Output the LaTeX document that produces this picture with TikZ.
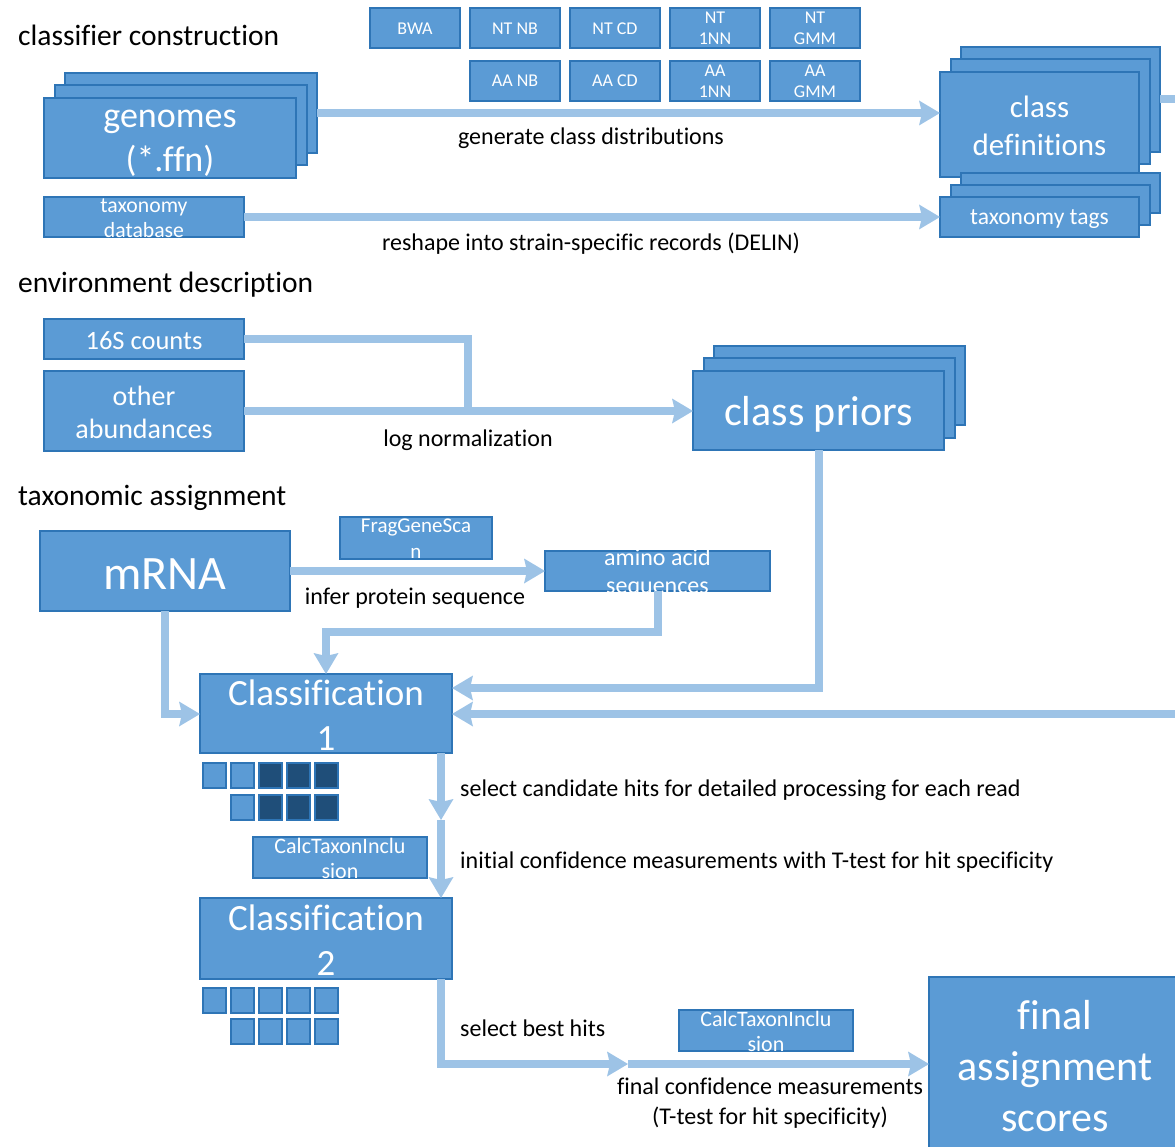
\documentclass[tikz,border=0pt]{standalone}
\usepackage{fontspec}
\setmainfont{Carlito}[Ligatures=NoCommon]
\usetikzlibrary{arrows.meta}
\definecolor{bf}{HTML}{5B9BD5}
\definecolor{bd}{HTML}{2E75B6}
\definecolor{lc}{HTML}{9DC3E6}
\definecolor{dk}{HTML}{1F4E79}
\begin{document}
\begin{tikzpicture}[x=1pt,y=-1pt,
 box/.style={draw=bd, fill=bf, line width=2pt, inner sep=0pt, outer sep=0pt},
 wt/.style={text=white, inner sep=0pt, align=center},
 lab/.style={text=black, inner sep=0pt, align=center, font=\fontsize{24}{30}\selectfont},
 ttl/.style={text=black, inner sep=0pt, anchor=west, font=\fontsize{29.5}{35}\selectfont},
 conn/.style={draw=lc, line width=8pt},
 arr/.style={conn, -{Stealth[length=21pt,width=25pt,inset=3pt,line width=0pt]}},
 sm/.style={box, minimum width=90pt, minimum height=40pt, text=white, align=center, font=\fontsize{18}{21}\selectfont},
 sq/.style={box, minimum width=23pt, minimum height=25pt},
 sqd/.style={sq, fill=dk},
]
\useasboundingbox (0,0) rectangle (1175,1147);

% ---- section titles
\node[ttl] (t1) at (18,35) {classifier construction};
\node[ttl] (t2) at (18,285) {environment description};
\node[ttl] (t3) at (18,498) {taxonomic assignment};

% ---- method boxes
\node[sm] (bwa) at (415,28.5) {BWA};
\node[sm] (ntnb) at (515,28.5) {NT NB};
\node[sm] (ntcd) at (615,28.5) {NT CD};
\node[sm] (nt1) at (715,28.5) {NT\\1NN};
\node[sm] (ntg) at (815,28.5) {NT\\GMM};
\node[sm] (aanb) at (515,81) {AA NB};
\node[sm] (aacd) at (615,81) {AA CD};
\node[sm] (aa1) at (715,81) {AA\\1NN};
\node[sm] (aag) at (815,81) {AA\\GMM};

% ---- genomes stack
\node[box, minimum width=252pt, minimum height=80pt] (gb) at (191,113) {};
\node[box, minimum width=252pt, minimum height=80pt] (gm) at (180.5,125.5) {};
\node[box, minimum width=252pt, minimum height=80pt] (gf) at (170,138) {};
\node[wt, font=\fontsize{36}{44}\selectfont] (gt) at (170,143) {genomes\\(*.ffn)};

% ---- taxonomy database
\node[box, minimum width=200pt, minimum height=40pt] (tdb) at (144,217) {};
\node[wt, font=\fontsize{21.7}{25}\selectfont] (tdbt) at (144,218) {taxonomy\\database};

% ---- class definitions stack
\node[box, minimum width=199pt, minimum height=105pt] (cdb) at (1060.5,99.5) {};
\node[box, minimum width=199pt, minimum height=105pt] (cdm) at (1050,112) {};
\node[box, minimum width=199pt, minimum height=105pt] (cdf) at (1039.5,124.5) {};
\node[wt, font=\fontsize{31}{38}\selectfont] (cdt) at (1039.5,126) {class\\definitions};

% ---- taxonomy tags stack
\node[box, minimum width=199pt, minimum height=40pt] (ttb) at (1060.5,193) {};
\node[box, minimum width=199pt, minimum height=40pt] (ttm) at (1050,205) {};
\node[box, minimum width=199pt, minimum height=40pt] (ttf) at (1039.5,217) {};
\node[wt, font=\fontsize{23.5}{28}\selectfont] (ttt) at (1039.5,219) {taxonomy tags};

% ---- classifier construction connectors
\draw[arr] (gb.east) -- (cdf.west |- gb.east);
\node[lab] (l1) at (591,138) {generate class distributions};
\draw[arr] (tdb.east) -- (ttf.west);
\node[lab] (l2) at (591,244) {reshape into strain-specific records (DELIN)};

% ---- environment
\node[box, minimum width=200pt, minimum height=40pt] (s16) at (144,339) {};
\node[wt, font=\fontsize{26.5}{30}\selectfont] (s16t) at (144,341) {16S counts};
\node[box, minimum width=200pt, minimum height=80pt] (oa) at (144,411) {};
\node[wt, font=\fontsize{28}{33}\selectfont] (oat) at (144,412) {other\\abundances};

\node[box, minimum width=251pt, minimum height=79pt] (cpb) at (839.5,385.5) {};
\node[box, minimum width=251pt, minimum height=79pt] (cpm) at (829,398) {};
\node[box, minimum width=251pt, minimum height=79pt] (cpf) at (818.5,410.5) {};
\node[wt, font=\fontsize{42}{50}\selectfont] (cpt) at (818.5,414) {class priors};

\coordinate (j1) at (468,339);
\coordinate (j2) at (468,411);
\draw[conn] (s16.east) -- (j1) -- (j2);
\draw[arr] (oa.east) -- (cpf.west |- oa.east);
\node[lab] (l3) at (468,440) {log normalization};

% ---- taxonomic assignment
\node[box, minimum width=250pt, minimum height=80pt] (mr) at (165,571) {};
\node[wt, font=\fontsize{48}{55}\selectfont] (mrt) at (165,574) {mRNA};
\node[box, minimum width=152pt, minimum height=42pt] (fgs) at (416,538) {};
\node[wt, font=\fontsize{21}{26}\selectfont] (fgst) at (416,539) {FragGeneSca\\n};
\node[box, minimum width=225pt, minimum height=40pt] (aa) at (657.5,571) {};
\node[wt, font=\fontsize{24}{28}\selectfont] (aat) at (657.5,573) {amino acid\\sequences};
\draw[arr] (mr.east) -- (aa.west);
\node[lab] (l4) at (415,598) {infer protein sequence};

\node[box, minimum width=252pt, minimum height=79pt] (cl1) at (326,713.5) {};
\node[wt, font=\fontsize{37}{45}\selectfont] (cl1t) at (326,715.5) {Classification\\1};
\node[box, minimum width=252pt, minimum height=81pt] (cl2) at (326,938.5) {};
\node[wt, font=\fontsize{37}{45}\selectfont] (cl2t) at (326,940.5) {Classification\\2};

% squares under Classification 1
\node[sq] (q11) at (214.5,775.5) {};
\node[sq] (q12) at (242.5,775.5) {};
\node[sqd] (q13) at (270.5,775.5) {};
\node[sqd] (q14) at (298.5,775.5) {};
\node[sqd] (q15) at (326.5,775.5) {};
\node[sq] (q22) at (242.5,807.5) {};
\node[sqd] (q23) at (270.5,807.5) {};
\node[sqd] (q24) at (298.5,807.5) {};
\node[sqd] (q25) at (326.5,807.5) {};
% squares under Classification 2
\node[sq] (r11) at (214.5,1000) {};
\node[sq] (r12) at (242.5,1000) {};
\node[sq] (r13) at (270.5,1000) {};
\node[sq] (r14) at (298.5,1000) {};
\node[sq] (r15) at (326.5,1000) {};
\node[sq] (r22) at (242.5,1031.5) {};
\node[sq] (r23) at (270.5,1031.5) {};
\node[sq] (r24) at (298.5,1031.5) {};
\node[sq] (r25) at (326.5,1031.5) {};

\node[box, minimum width=174pt, minimum height=41pt] (ct1) at (340,857.5) {};
\node[wt, font=\fontsize{22}{25}\selectfont] (ct1t) at (340,858.5) {CalcTaxonInclu\\sion};
\node[box, minimum width=174pt, minimum height=41pt] (ct2) at (766,1030.5) {};
\node[wt, font=\fontsize{22}{25}\selectfont] (ct2t) at (766,1031.5) {CalcTaxonInclu\\sion};

\node[box, minimum width=252pt, minimum height=180pt] (fin) at (1055,1067) {};
\node[wt, font=\fontsize{42}{51}\selectfont] (fint) at (1055,1066) {final\\assignment\\scores};

% connectors into Classification 1
\coordinate (c3) at (165,714);
\draw[arr] (mr.south -| c3) -- (c3) -- (cl1.west |- c3);
\coordinate (c4) at (658,632);
\coordinate (c5) at (326,632);
\draw[arr] (aa.south -| c4) -- (c4) -- (c5) -- (cl1.north -| c5);
\coordinate (c6) at (819,688);
\draw[arr] (cpf.south -| c6) -- (c6) -- (cl1.east |- c6);
\coordinate (c7) at (1195,99.5);
\coordinate (c8) at (1195,714);
\draw[arr] (cdb.east) -- (c7) -- (c8) -- (cl1.east |- c8);

% Classification 1 -> 2
\coordinate (m1) at (441,820);
\draw[arr] (cl1.south -| m1) -- (m1);
\draw[arr] (m1) -- (cl2.north -| m1);
\node[lab, anchor=west] (l5) at (460,790) {select candidate hits for detailed processing for each read};
\node[lab, anchor=west] (l6) at (460,862) {initial confidence measurements with T-test for hit specificity};

% Classification 2 -> final
\coordinate (c9) at (441,1064);
\coordinate (m2) at (628,1064);
\draw[arr] (cl2.south -| c9) -- (c9) -- (m2);
\draw[arr] (m2) -- (fin.west |- m2);
\node[lab, anchor=west] (l7) at (460,1028) {select best hits};
\node[lab] (l8) at (770,1103) {final confidence measurements\\(T-test for hit specificity)};
\end{tikzpicture}
\end{document}
